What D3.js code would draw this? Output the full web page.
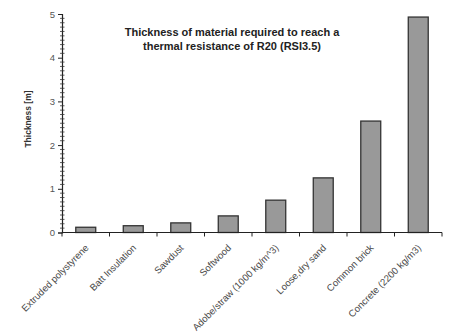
<!DOCTYPE html>
<html>
<head>
<meta charset="utf-8">
<script src="https://cdn.jsdelivr.net/npm/d3@7"></script>
<style>
  html, body { margin: 0; padding: 0; background: #fff; }
  svg { display: block; font-family: "Liberation Sans", Arial, sans-serif; }
</style>
</head>
<body>
<svg id="chart" width="450" height="333"></svg>
<script>
// Materials and the thickness (m) needed for R20 (RSI 3.5)
const materials = [
  "Extruded polystyrene",
  "Batt Insulation",
  "Sawdust",
  "Softwood",
  "Adobe/straw (1000 kg/m^3)",
  "Loose,dry sand",
  "Common brick",
  "Concrete (2200 kg/m3)"
];
const thickness = [0.12, 0.155, 0.22, 0.38, 0.74, 1.25, 2.55, 4.93];
const yTicks = [0, 1, 2, 3, 4, 5];
const titleLines = [
  "Thickness of material required to reach a",
  "thermal resistance of R20 (RSI3.5)"
];
const yLabel = "Thickness [m]";

const svg = d3.select("#chart");
const plotLeft = 62, plotRight = 442, plotTop = 14, plotBottom = 232.5;

const x = d3.scaleBand().domain(materials).range([plotLeft, plotRight]).paddingInner(0.58).paddingOuter(0.29);
const y = d3.scaleLinear().domain([0, 5]).range([plotBottom, plotTop]);

// bars
svg.append("g").selectAll("rect")
  .data(materials)
  .join("rect")
  .attr("x", d => x(d))
  .attr("width", x.bandwidth())
  .attr("y", (d, i) => y(thickness[i]))
  .attr("height", (d, i) => y(0) - y(thickness[i]))
  .attr("fill", "#999999")
  .attr("stroke", "#333")
  .attr("stroke-width", 1.3);

// y axis with major ticks
const yAxis = d3.axisLeft(y).tickValues(yTicks).tickFormat(d3.format("d")).tickSize(4).tickPadding(3);
const gy = svg.append("g").attr("transform", `translate(${plotLeft},0)`).call(yAxis);
gy.select(".domain").attr("stroke", "#222").attr("stroke-width", 1.2);
gy.selectAll(".tick line").attr("stroke", "#222");
gy.selectAll(".tick text").attr("fill", "#555").attr("font-size", 9.5);

// minor ticks crossing the y axis every 0.1
const minor = d3.range(0, 50).map(k => k / 10).filter(v => Math.abs(v - Math.round(v)) > 1e-9);
svg.append("g").selectAll("line")
  .data(minor)
  .join("line")
  .attr("x1", plotLeft - 2).attr("x2", plotLeft + 2.5)
  .attr("y1", d => y(d)).attr("y2", d => y(d))
  .attr("stroke", "#333").attr("stroke-width", 0.8);

// x axis: baseline and category boundary ticks
const step = x.step();
const bounds = d3.range(materials.length + 1).map(i => plotLeft + i * step);
svg.append("line")
  .attr("x1", plotLeft).attr("x2", plotRight)
  .attr("y1", plotBottom).attr("y2", plotBottom)
  .attr("stroke", "#222").attr("stroke-width", 1.2);
svg.append("g").selectAll("line")
  .data(bounds)
  .join("line")
  .attr("x1", d => d).attr("x2", d => d)
  .attr("y1", plotBottom).attr("y2", plotBottom + 4)
  .attr("stroke", "#222");

// rotated category labels
svg.append("g").selectAll("text")
  .data(materials)
  .join("text")
  .attr("transform", d => `translate(${x(d) + x.bandwidth() / 2 + 3.5},${plotBottom + 16}) rotate(-45)`)
  .attr("text-anchor", "end")
  .attr("font-size", 9.6)
  .attr("fill", "#484848")
  .text(d => d);

// title
svg.append("g").selectAll("text")
  .data(titleLines)
  .join("text")
  .attr("x", 232)
  .attr("y", (d, i) => 36 + i * 14)
  .attr("text-anchor", "middle")
  .attr("font-size", 11)
  .attr("font-weight", "bold")
  .attr("fill", "#222")
  .text(d => d);

// y axis title
svg.append("text")
  .attr("transform", "translate(31,119) rotate(-90)")
  .attr("text-anchor", "middle")
  .attr("font-size", 8.5)
  .attr("font-weight", "bold")
  .attr("fill", "#333")
  .text(yLabel);
</script>
</body>
</html>
